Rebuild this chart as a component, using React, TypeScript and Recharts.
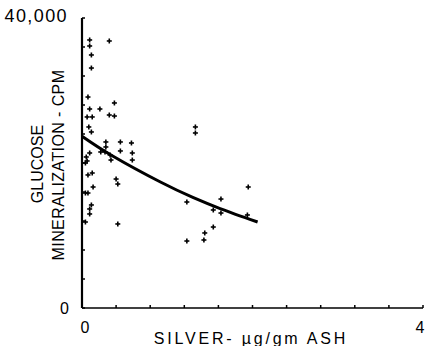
import { ComposedChart, Scatter, Line, XAxis, YAxis, Label } from 'recharts'

// silver (ug/gm ash) vs glucose mineralization (cpm)
const silver = [
  0.09, 0.32, 0.09, 0.11, 0.11, 0.07, 0.38, 0.09, 0.21, 0.06, 0.12, 0.32, 0.38,
  0.08, 0.11, 0.28, 0.45, 0.58, 0.28, 0.09, 0.22, 0.27, 0.33, 0.45, 0.59, 0.05,
  0.34, 0.59, 0.06, 0.04, 0.07, 0.12, 0.4, 0.42, 0.13, 0.07, 0.04, 0.11, 0.09,
  0.09, 0.04, 0.42, 1.33, 1.33, 1.95, 1.23, 1.63, 1.54, 1.63, 1.94, 1.54, 1.44,
  1.43, 1.23,
]
const cpm = [
  36970, 36830, 36140, 34900, 33100, 29100, 28280, 27450, 27450, 26350, 26350,
  26620, 26480, 24970, 24280, 22900, 22900, 22760, 22210, 21380, 21520, 21520,
  21100, 21660, 21380, 20830, 20410, 20410, 20280, 20000, 18350, 18620, 17790,
  17100, 16690, 15860, 15860, 14210, 13660, 12970, 11860, 11590, 24970, 24140,
  16690, 14620, 15030, 13520, 13100, 12830, 11170, 10350, 9380, 9240,
]

// fitted curve
const curveX = [0, 0.36, 0.92, 1.3, 1.62, 2.06]
const curveY = [23700, 20970, 17380, 15250, 13720, 11860]

const xTicks = [0, 0.4, 0.8, 1.2, 1.6, 2.0, 2.4, 2.8, 3.2, 3.6, 4]
const yTicks = [0, 4000, 8000, 12000, 16000, 20000, 24000, 28000, 32000, 36000, 40000]

const points = silver.map((x, i) => ({ x, y: cpm[i] }))
const curve = curveX.map((x, i) => ({ x, y: curveY[i] }))

const font = '"Liberation Sans", Arial, sans-serif'

const Plus = (props: any) => {
  const { cx, cy } = props
  return (
    <g stroke="#000" strokeWidth={1.6}>
      <line x1={cx - 2.5} y1={cy} x2={cx + 2.5} y2={cy} />
      <line x1={cx} y1={cy - 2.5} x2={cx} y2={cy + 2.5} />
    </g>
  )
}

const XTick = (props: any) => {
  const { x, y, payload } = props
  const v = payload.value
  return (
    <g>
      <line x1={x} y1={y} x2={x} y2={y - 3} stroke="#000" strokeWidth={1.5} />
      {(v === 0 || v === 4) && (
        <text x={x + (v === 0 ? 3 : -3)} y={y + 25} textAnchor="middle" fontSize={16} fontFamily={font} fill="#000">
          {v}
        </text>
      )}
    </g>
  )
}

const YTick = (props: any) => {
  const { x, y, payload } = props
  const v = payload.value
  return (
    <g>
      <line x1={x} y1={y} x2={x + 3} y2={y} stroke="#000" strokeWidth={1.5} />
      {v === 40000 && (
        <text x={x - 14} y={y + 4} textAnchor="end" fontSize={18} fontFamily={font} letterSpacing={1.4} fill="#000">
          40,000
        </text>
      )}
      {v === 0 && (
        <text x={x - 13} y={y + 6} textAnchor="end" fontSize={16} fontFamily={font} fill="#000">
          0
        </text>
      )}
    </g>
  )
}

export default function App() {
  return (
    <div style={{ position: 'absolute', left: 0, top: 0, background: '#fff' }}>
      <ComposedChart width={430} height={346} margin={{ top: 18, right: 7, bottom: 0, left: 0 }}>
        <XAxis
          type="number"
          dataKey="x"
          domain={[0, 4]}
          ticks={xTicks}
          interval={0}
          tick={<XTick />}
          tickLine={false}
          tickSize={0}
          tickMargin={0}
          height={38}
          axisLine={{ stroke: '#000', strokeWidth: 1.5 }}
        >
          <Label
            content={() => (
              <text x={251} y={344} textAnchor="middle" fontSize={16} fontFamily={font} letterSpacing={2.8} fill="#000">
                SILVER- µg/gm ASH
              </text>
            )}
          />
        </XAxis>
        <YAxis
          type="number"
          dataKey="y"
          domain={[0, 40000]}
          ticks={yTicks}
          interval={0}
          tick={<YTick />}
          tickLine={false}
          tickSize={0}
          tickMargin={0}
          width={82}
          axisLine={{ stroke: '#000', strokeWidth: 2.2 }}
        >
          <Label
            content={() => (
              <g fontSize={16} fontFamily={font} fill="#000">
                <text x={43} y={164} textAnchor="middle" transform="rotate(-90 43 164)">
                  GLUCOSE
                </text>
                <text x={64} y={165} textAnchor="middle" letterSpacing={0.4} transform="rotate(-90 64 165)">
                  MINERALIZATION - CPM
                </text>
              </g>
            )}
          />
        </YAxis>
        <Line
          data={curve}
          dataKey="y"
          type="natural"
          stroke="#000"
          strokeWidth={3}
          dot={false}
          isAnimationActive={false}
        />
        <Scatter data={points} dataKey="y" shape={<Plus />} isAnimationActive={false} />
      </ComposedChart>
    </div>
  )
}
